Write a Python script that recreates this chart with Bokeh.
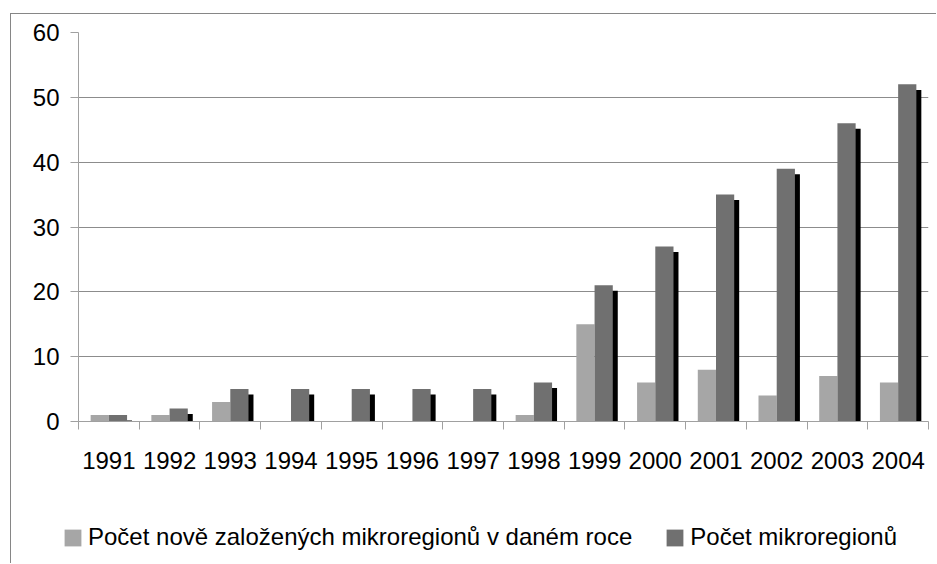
import numpy as np
from bokeh.plotting import figure
from bokeh.models import (ColumnDataSource, FixedTicker, Legend, LegendItem, Range1d)
from bokeh.transform import dodge
from bokeh.embed import file_html
from bokeh.resources import INLINE

years = ["1991", "1992", "1993", "1994", "1995", "1996", "1997",
         "1998", "1999", "2000", "2001", "2002", "2003", "2004"]
new_regions = [1, 1, 3, 0, 0, 0, 0, 1, 15, 6, 8, 4, 7, 6]
total_regions = [1, 2, 5, 5, 5, 5, 5, 6, 21, 27, 35, 39, 46, 52]
y_ticks = [0, 10, 20, 30, 40, 50, 60]
label_new = "Počet nově založených mikroregionů v daném roce"
label_total = "Počet mikroregionů"

FONT = "Liberation Sans"
FS = "24px"
SHADOW_DROP = 0.85
C_NEW = "#a6a6a6"
C_TOT = "#707070"
C_AXIS = "#a0a0a0"
C_BORDER = "#868686"

pos = np.arange(len(years)) + 0.5
src = ColumnDataSource(dict(
    x=pos,
    new=new_regions,
    total=total_regions,
    shadow=[v - SHADOW_DROP for v in total_regions],
))

p = figure(width=926, height=500, output_backend="svg", toolbar_location=None,
           x_range=Range1d(0, len(years)), y_range=Range1d(0, 60),
           min_border_left=67, min_border_right=9, min_border_top=18,
           min_border_bottom=93)
p.outline_line_color = None
p.background_fill_color = "white"
p.border_fill_color = "white"
p.styles = {"margin-left": "10px", "margin-top": "13px",
            "border-left": f"1px solid {C_BORDER}",
            "border-top": f"1px solid {C_BORDER}"}

# shadow behind the dark bars
p.vbar(x=dodge("x", 0.232), top="shadow", bottom=0, width=0.3, source=src,
       fill_color="black", line_color=None)
p.vbar(x=dodge("x", -0.15), top="new", bottom=0, width=0.3, source=src,
       fill_color=C_NEW, line_color=None)
p.vbar(x=dodge("x", 0.15), top="total", bottom=0, width=0.3, source=src,
       fill_color=C_TOT, line_color=None)

# y axis
p.yaxis.ticker = FixedTicker(ticks=y_ticks)
p.yaxis.axis_line_color = C_AXIS
p.yaxis.major_tick_line_color = C_AXIS
p.yaxis.major_tick_out = 8
p.yaxis.major_tick_in = 0
p.yaxis.minor_tick_line_color = None
p.yaxis.major_label_standoff = 11
p.yaxis.major_label_text_font = FONT
p.yaxis.major_label_text_font_size = FS
p.yaxis.major_label_text_color = "black"
p.ygrid.ticker = FixedTicker(ticks=y_ticks)
p.ygrid.grid_line_color = "#8c8c8c"
p.xgrid.grid_line_color = None

# x axis: labels at category centres, ticks at category boundaries
p.xaxis.ticker = FixedTicker(ticks=list(pos),
                             minor_ticks=list(range(len(years) + 1)))
p.xaxis.major_label_overrides = {float(x): y for x, y in zip(pos, years)}
p.xaxis.axis_line_color = C_AXIS
p.xaxis.major_tick_line_color = None
p.xaxis.major_tick_out = 0
p.xaxis.major_tick_in = 0
p.xaxis.minor_tick_line_color = C_AXIS
p.xaxis.minor_tick_out = 8
p.xaxis.minor_tick_in = 0
p.xaxis.major_label_standoff = 22
p.xaxis.major_label_text_font = FONT
p.xaxis.major_label_text_font_size = FS
p.xaxis.major_label_text_color = "black"

# legend strip below the chart (separate root, so no frame alignment)
lg = figure(width=926, height=50, output_backend="svg", toolbar_location=None,
            x_axis_location=None, y_axis_location=None,
            min_border_left=0, min_border_right=0, min_border_top=0,
            min_border_bottom=0)
lg.outline_line_color = None
lg.xgrid.grid_line_color = None
lg.ygrid.grid_line_color = None
lg.styles = {"margin-left": "10px", "border-left": f"1px solid {C_BORDER}"}
# zero-width proxies that only provide the legend swatches
k_new = lg.vbar(x="x", top="new", bottom=0, width=0, source=src,
                fill_color=C_NEW, line_color=None)
k_tot = lg.vbar(x="x", top="total", bottom=0, width=0, source=src,
                fill_color=C_TOT, line_color=None)
legend = Legend(items=[LegendItem(label=label_new, renderers=[k_new]),
                       LegendItem(label=label_total, renderers=[k_tot])],
                orientation="horizontal", location=(51, 12),
                label_text_font=FONT, label_text_font_size=FS,
                label_text_color="black",
                glyph_width=21, glyph_height=21, label_standoff=5,
                spacing=32, padding=0, margin=0,
                border_line_color=None, background_fill_alpha=0)
lg.add_layout(legend, "center")

open("out.html", "w").write(file_html([p, lg], INLINE))
